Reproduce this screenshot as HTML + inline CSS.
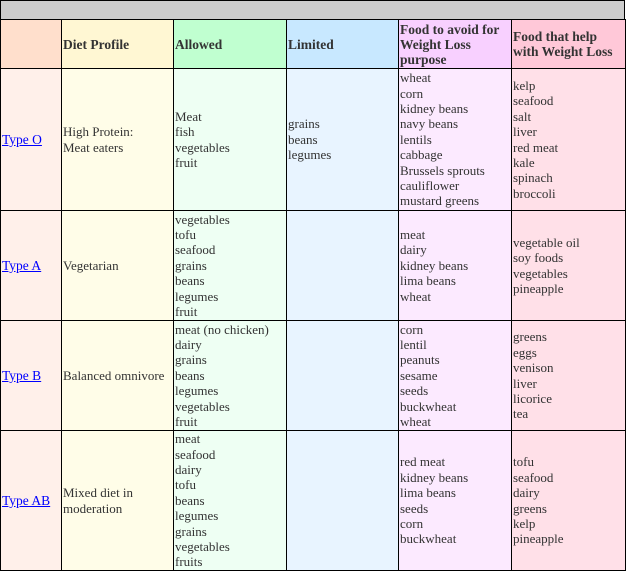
<!DOCTYPE html>
<html><head><style>
body{margin:0;background:#fff;}
.bar{position:absolute;left:0;top:0;width:623px;height:18px;background:#cccccc;border:1px solid #000;border-bottom:none;}
table{position:absolute;left:0;top:19px;border-collapse:collapse;table-layout:fixed;width:625px;font-family:"Liberation Serif",serif;font-size:13px;line-height:15.4px;color:#333;}
td{border:1px solid #000;padding:0 1px;vertical-align:middle;overflow:hidden;white-space:nowrap;}
td.w{white-space:normal;}
th{border:1px solid #000;padding:0 1px;text-align:left;font-weight:bold;vertical-align:middle;font-size:13.5px;line-height:15px;}
a{color:#00f;text-decoration:underline;font-size:13.5px;}
.c1{background:#fff0ea}.c2{background:#fffde8}.c3{background:#eefff3}.c4{background:#e8f4ff}.c5{background:#fceaff}.c6{background:#ffe0e8}
</style></head><body>
<div class="bar"></div>
<table>
<colgroup><col style="width:61px"><col style="width:112px"><col style="width:113px"><col style="width:112px"><col style="width:113px"><col style="width:114px"></colgroup>
<tr style="height:49px"><th style="background:#ffdfcc"></th><th style="background:#fff7d3">Diet Profile</th><th style="background:#c0ffd0">Allowed</th><th style="background:#c8e8ff">Limited</th><th style="background:#f8d0ff">Food to avoid for Weight Loss purpose</th><th style="background:#ffc8d8">Food that help<br>with Weight Loss</th></tr>
<tr style="height:142px"><td class="c1"><a>Type O</a></td><td class="c2 w">High Protein:<br>Meat eaters</td><td class="c3">Meat<br>fish<br>vegetables<br>fruit</td><td class="c4">grains<br>beans<br>legumes</td><td class="c5">wheat<br>corn<br>kidney beans<br>navy beans<br>lentils<br>cabbage<br>Brussels sprouts<br>cauliflower<br>mustard greens</td><td class="c6">kelp<br>seafood<br>salt<br>liver<br>red meat<br>kale<br>spinach<br>broccoli</td></tr>
<tr style="height:110px"><td class="c1"><a>Type A</a></td><td class="c2">Vegetarian</td><td class="c3">vegetables<br>tofu<br>seafood<br>grains<br>beans<br>legumes<br>fruit</td><td class="c4"></td><td class="c5">meat<br>dairy<br>kidney beans<br>lima beans<br>wheat</td><td class="c6">vegetable oil<br>soy foods<br>vegetables<br>pineapple</td></tr>
<tr style="height:110px"><td class="c1"><a>Type B</a></td><td class="c2">Balanced omnivore</td><td class="c3">meat (no chicken)<br>dairy<br>grains<br>beans<br>legumes<br>vegetables<br>fruit</td><td class="c4"></td><td class="c5">corn<br>lentil<br>peanuts<br>sesame<br>seeds<br>buckwheat<br>wheat</td><td class="c6">greens<br>eggs<br>venison<br>liver<br>licorice<br>tea</td></tr>
<tr style="height:140px"><td class="c1"><a>Type AB</a></td><td class="c2">Mixed diet in<br>moderation</td><td class="c3">meat<br>seafood<br>dairy<br>tofu<br>beans<br>legumes<br>grains<br>vegetables<br>fruits</td><td class="c4"></td><td class="c5">red meat<br>kidney beans<br>lima beans<br>seeds<br>corn<br>buckwheat</td><td class="c6">tofu<br>seafood<br>dairy<br>greens<br>kelp<br>pineapple</td></tr>
</table>
</body></html>
